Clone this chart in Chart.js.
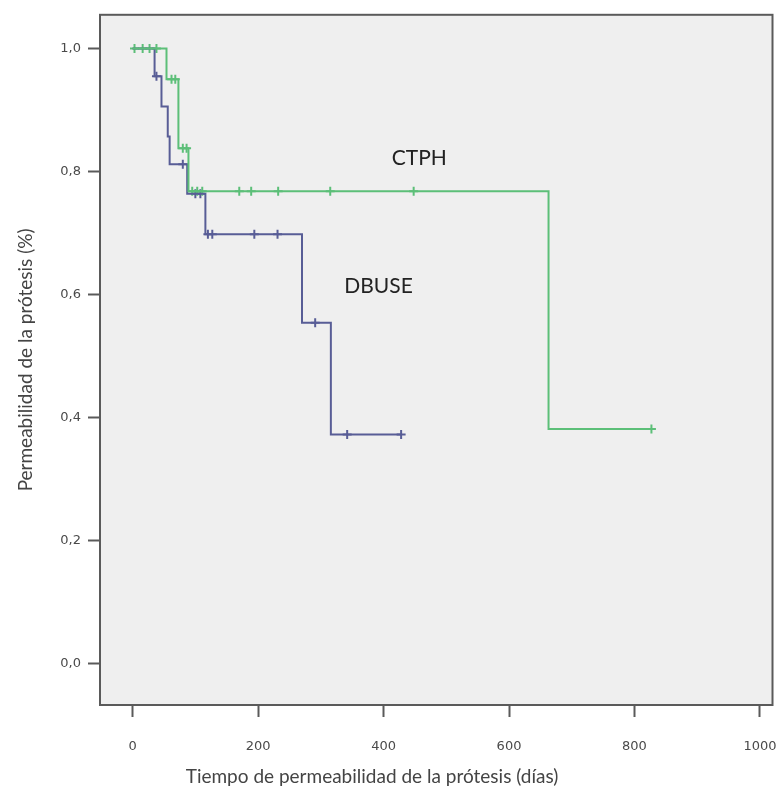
<!DOCTYPE html>
<html>
<head>
    <title>Permeabilidad de la prótesis</title>
    <script src="https://cdn.jsdelivr.net/npm/chart.js"></script>
    <style>
        body { margin: 0; background: #fff; }
    </style>
</head>
<body>
    <canvas id="myChart" width="779" height="796"></canvas>
    <script>
        // Curva DBUSE (azul): tiempos de evento y supervivencia
        const dbuseDias = [0, 35, 46, 56, 59, 87, 116, 270, 316, 428];
        const dbuseValor = [1.0, 0.955, 0.906, 0.857, 0.812, 0.764, 0.698, 0.554, 0.372, 0.372];
        // Censuras DBUSE
        const dbuseCensDias = [38, 80, 100, 108, 120, 127, 194, 231, 291, 342, 428];
        const dbuseCensValor = [0.955, 0.812, 0.764, 0.764, 0.698, 0.698, 0.698, 0.698, 0.554, 0.372, 0.372];

        // Curva CTPH (verde)
        const ctphDias = [0, 54, 73, 89, 663, 827];
        const ctphValor = [1.0, 0.95, 0.838, 0.768, 0.381, 0.381];
        // Censuras CTPH
        const ctphCensDias = [3, 16, 27, 38, 62, 68, 80, 86, 95, 103, 111, 170, 189, 232, 315, 448, 827];
        const ctphCensValor = [1, 1, 1, 1, 0.95, 0.95, 0.838, 0.838, 0.768, 0.768, 0.768, 0.768, 0.768, 0.768, 0.768, 0.768, 0.381];

        const xTicks = [0, 200, 400, 600, 800, 1000];
        const yTicks = [0, 0.2, 0.4, 0.6, 0.8, 1.0];

        // Etiquetas de las curvas (posición en coordenadas de datos)
        const etiquetas = ['CTPH', 'DBUSE'];
        const etiquetasX = [457, 392];
        const etiquetasY = [0.821, 0.614];

        const azul = '#585d96';
        const verde = '#5cbf78';

        function puntos(xs, ys) {
            return xs.map((x, i) => ({ x: x, y: ys[i] }));
        }

        // Fondo gris y marco del área del gráfico
        const marco = {
            id: 'marco',
            beforeDraw(chart) {
                const a = chart.chartArea;
                const ctx = chart.ctx;
                ctx.save();
                ctx.fillStyle = '#efefef';
                ctx.fillRect(a.left, a.top, a.right - a.left, a.bottom - a.top);
                ctx.restore();
            },
            afterDraw(chart) {
                const a = chart.chartArea;
                const ctx = chart.ctx;
                ctx.save();
                ctx.strokeStyle = '#5a5a5a';
                ctx.lineWidth = 2;
                ctx.strokeRect(a.left, a.top, a.right - a.left, a.bottom - a.top);

                // etiquetas de las curvas
                ctx.fillStyle = '#222';
                ctx.font = '21px Lato';
                ctx.textAlign = 'center';
                ctx.textBaseline = 'middle';
                const sx = chart.scales.x, sy = chart.scales.y;
                etiquetas.forEach((t, i) => {
                    ctx.fillText(t, sx.getPixelForValue(etiquetasX[i]), sy.getPixelForValue(etiquetasY[i]));
                });

                // título del eje X
                ctx.fillStyle = '#444';
                ctx.font = '19px Lato';
                ctx.fillText('Tiempo de permeabilidad de la prótesis (días)', 372, 777);
                ctx.restore();
            }
        };

        const data = {
            datasets: [
                {
                    label: 'CTPH',
                    data: puntos(ctphDias, ctphValor),
                    borderColor: verde,
                    borderWidth: 2,
                    stepped: true,
                    showLine: true,
                    pointRadius: 0,
                    fill: false
                },
                {
                    label: 'DBUSE',
                    data: puntos(dbuseDias, dbuseValor),
                    borderColor: azul,
                    borderWidth: 2,
                    stepped: true,
                    showLine: true,
                    pointRadius: 0,
                    fill: false
                },
                {
                    label: 'CTPH censurado',
                    data: puntos(ctphCensDias, ctphCensValor),
                    borderColor: verde,
                    backgroundColor: verde,
                    pointStyle: 'cross',
                    pointRadius: 4.5,
                    pointBorderWidth: 2,
                    showLine: false
                },
                {
                    label: 'DBUSE censurado',
                    data: puntos(dbuseCensDias, dbuseCensValor),
                    borderColor: azul,
                    backgroundColor: azul,
                    pointStyle: 'cross',
                    pointRadius: 4.5,
                    pointBorderWidth: 2,
                    showLine: false
                }
            ]
        };

        const config = {
            type: 'scatter',
            data: data,
            plugins: [marco],
            options: {
                responsive: false,
                animation: false,
                layout: { padding: { top: 13, right: 0, left: 0, bottom: 0 } },
                plugins: {
                    legend: { display: false },
                    tooltip: { enabled: false }
                },
                scales: {
                    x: {
                        type: 'linear',
                        min: -52,
                        max: 1020,
                        afterBuildTicks: (s) => { s.ticks = xTicks.map(v => ({ value: v })); },
                        afterFit: (s) => { s.height = 91; s.paddingRight = 0; s.paddingLeft = 0; },
                        border: { display: true, color: '#5a5a5a', width: 2 },
                        grid: { drawOnChartArea: false, drawTicks: true, tickLength: 12, color: '#5a5a5a', tickWidth: 2 },
                        ticks: {
                            color: '#4a4a4a',
                            font: { family: 'DejaVu Sans', size: 13 },
                            padding: 22,
                            maxRotation: 0,
                            callback: (v) => String(v)
                        }
                    },
                    y: {
                        type: 'linear',
                        min: -0.068,
                        max: 1.055,
                        afterBuildTicks: (s) => { s.ticks = yTicks.map(v => ({ value: v })); },
                        afterFit: (s) => { s.width = 100; },
                        border: { display: true, color: '#5a5a5a', width: 2 },
                        grid: { drawOnChartArea: false, drawTicks: true, tickLength: 12, color: '#5a5a5a', tickWidth: 2 },
                        ticks: {
                            color: '#4a4a4a',
                            font: { family: 'DejaVu Sans', size: 13 },
                            padding: 7,
                            callback: (v) => v.toFixed(1).replace('.', ',')
                        },
                        title: {
                            display: true,
                            text: 'Permeabilidad de la prótesis (%)',
                            color: '#444',
                            font: { family: 'Lato', size: 19 },
                            padding: { top: 14, bottom: 10 }
                        }
                    }
                }
            }
        };

        const myChart = new Chart(document.getElementById('myChart'), config);
    </script>
</body>
</html>
